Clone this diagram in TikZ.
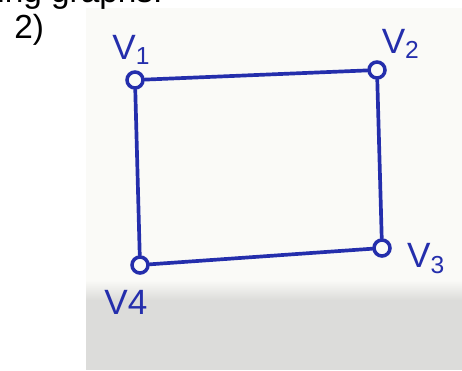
\documentclass[tikz,border=0pt]{standalone}
\usepackage{fontspec}
\setmainfont{Liberation Sans}
\usepackage{xcolor}
\usetikzlibrary{positioning}

\definecolor{ink}{RGB}{36,46,172}
\definecolor{paper}{RGB}{250,250,247}
\definecolor{shadow}{RGB}{220,220,218}

\begin{document}
\begin{tikzpicture}[
  x=0.02cm, y=-0.02cm,
  vtx/.style={draw=ink, circle, line width=2pt, fill=paper,
              minimum size=0.32cm, inner sep=0pt},
  lbl/.style={text=ink, font=\fontsize{20}{20}\selectfont, inner sep=0pt},
  edge/.style={draw=ink, line width=2.1pt, line cap=round},
  node distance=0.12cm and 0.05cm
]
  \useasboundingbox (0,0) rectangle (462,370);
  % photo of the sheet
  \fill[paper] (86,8) rectangle (462,370);
  \shade[top color=paper, bottom color=shadow] (86,280) rectangle (462,300);
  \fill[shadow] (86,300) rectangle (462,370);

  % printed text
  \node[anchor=base west, inner sep=0pt, font=\fontsize{19}{19}\selectfont]
    (hdr) at (-3,2) {ing graphs:};
  \node[anchor=base west, inner sep=0pt, font=\fontsize{19}{19}\selectfont]
    (num) at (14,38) {2)};

  % vertices
  \node[vtx] (v1) at (135,80) {};
  \node[vtx] (v2) at (377,70) {};
  \node[vtx] (v3) at (382,248) {};
  \node[vtx] (v4) at (140,265) {};

  % edges
  \draw[edge] (v1) -- (v2);
  \draw[edge] (v2) -- (v3);
  \draw[edge] (v3) -- (v4);
  \draw[edge] (v4) -- (v1);

  % labels
  \node[lbl, above=0.1cm of v1, xshift=-2pt] (l1) {V\textsubscript{1}};
  \node[lbl, above right=0.08cm and -0.05cm of v2] (l2) {V\textsubscript{2}};
  \node[lbl, right=0.3cm of v3, yshift=-6pt] (l3) {V\textsubscript{3}};
  \node[lbl, below=0.3cm of v4, xshift=-8pt] (l4) {V4};
\end{tikzpicture}
\end{document}
